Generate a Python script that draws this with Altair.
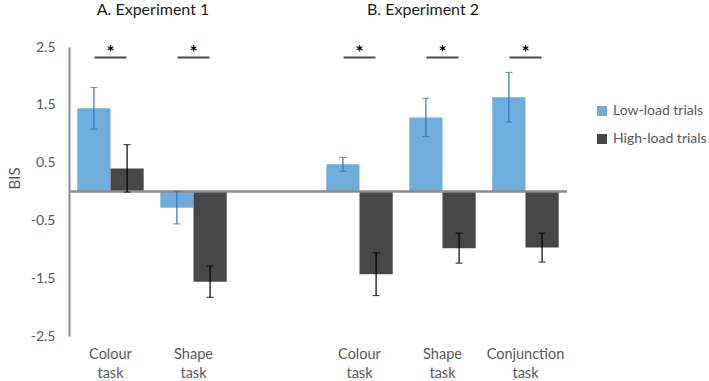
import altair as alt
import pandas as pd

# Category slots along x (one empty slot separates the two experiments)
slots = ["E1|Colour task", "E1|Shape task", "gap",
         "E2|Colour task", "E2|Shape task", "E2|Conjunction task"]
task_slots = [s for s in slots if s != "gap"]
series = ["Low-load trials", "High-load trials"]
panel_titles = ["A. Experiment 1", "B. Experiment 2"]

# Mean BIS scores and error half-widths
low_mean = [1.44, -0.28, 0.47, 1.28, 1.63]
low_err = [0.36, 0.28, 0.12, 0.33, 0.43]
high_mean = [0.40, -1.56, -1.43, -0.98, -0.97]
high_err = [0.41, 0.27, 0.37, 0.26, 0.25]

# Significance markers
sig_line = [2.32] * len(task_slots)
sig_star = [2.40] * len(task_slots)

y_ticks = [-2.5, -1.5, -0.5, 0.5, 1.5, 2.5]

BLUE = "#70ADDB"
DARK = "#474747"
ERR_BLUE = "#2E75B6"
GREY_TEXT = "#595959"
FONT = "Lato"

rows = []
for i, s in enumerate(task_slots):
    for name, m, e in ((series[0], low_mean[i], low_err[i]),
                       (series[1], high_mean[i], high_err[i])):
        rows.append(dict(slot=s, series=name, mean=m, lo=m - e, hi=m + e))
df = pd.DataFrame(rows)

sig_df = pd.DataFrame({"slot": task_slots, "line": sig_line, "star": sig_star})

x_enc = alt.X(
    "slot:N",
    scale=alt.Scale(domain=slots, paddingInner=0.2, paddingOuter=0.1),
    axis=alt.Axis(
        orient="bottom", domain=False, ticks=False, labelAngle=0,
        labelExpr="datum.value == 'gap' ? '' : split(split(datum.value, '|')[1], ' ')",
        labelFontSize=14.5, labelColor=GREY_TEXT, labelFont=FONT,
        labelPadding=11, labelLineHeight=19,
    ),
    title=None,
)
xo_enc = alt.XOffset("series:N", scale=alt.Scale(domain=series, paddingInner=0, paddingOuter=0))

y_axis = alt.Axis(
    values=y_ticks, ticks=False, grid=False,
    domainColor="#8C8C8C", domainWidth=2,
    labelExpr="(datum.value < 0 ? '-' : '') + format(abs(datum.value), '.1f')",
    labelFontSize=14, labelColor=GREY_TEXT, labelFont=FONT, labelPadding=14,
    title="BIS", titleFontSize=15, titleFontWeight="normal", titleColor=GREY_TEXT,
    titleFont=FONT, titlePadding=8, titleY=131,
)
y_scale = alt.Scale(domain=[-2.5, 2.5], nice=False, zero=False)


def Y(field):
    return alt.Y(field, scale=y_scale, axis=y_axis, title="BIS")


base = alt.Chart(df)

bars = base.mark_bar().encode(
    x=x_enc, xOffset=xo_enc, y=Y("mean:Q"), y2=alt.datum(0),
    color=alt.Color(
        "series:N", scale=alt.Scale(domain=series, range=[BLUE, DARK]),
        legend=alt.Legend(
            title=None, orient="none", legendX=526, legendY=57,
            symbolType="square", symbolSize=100, symbolStrokeWidth=0,
            labelFontSize=14, labelColor=GREY_TEXT, labelFont=FONT,
            rowPadding=14, labelOffset=4,
        ),
    ),
)

err_color = alt.Color("series:N", scale=alt.Scale(domain=series, range=[ERR_BLUE, "#000000"]), legend=None)

err_rule = base.mark_rule(strokeWidth=1.2).encode(
    x=x_enc, xOffset=xo_enc, y=Y("lo:Q"), y2="hi:Q", color=err_color)
err_cap_lo = base.mark_tick(size=7, thickness=1.2).encode(
    x=x_enc, xOffset=xo_enc, y=Y("lo:Q"), color=err_color)
err_cap_hi = base.mark_tick(size=7, thickness=1.2).encode(
    x=x_enc, xOffset=xo_enc, y=Y("hi:Q"), color=err_color)

# Horizontal baseline at zero across the whole plot
zero_line = alt.Chart(df).mark_rule(color="#8C8C8C", strokeWidth=2.5).encode(
    y=alt.Y("z:Q", scale=y_scale, axis=y_axis, title="BIS")
).transform_calculate(z="0").transform_filter(
    "datum.slot == 'E1|Colour task' && datum.series == 'Low-load trials'")

sig_bars = alt.Chart(sig_df).mark_tick(size=32, thickness=2, color="#000000").encode(
    x=x_enc, y=Y("line:Q"))
sig_stars = alt.Chart(sig_df).mark_text(
    text="*", fontSize=19, fontWeight="bold", font=FONT, color="#000000", baseline="middle"
).encode(x=x_enc, y=Y("star:Q"))

title_a = alt.Chart(pd.DataFrame({"t": [panel_titles[0]]})).mark_text(
    fontSize=16, font=FONT, color="#1A1A1A", baseline="middle"
).encode(text="t:N", x=alt.value(84), y=alt.value(-37))
title_b = alt.Chart(pd.DataFrame({"t": [panel_titles[1]]})).mark_text(
    fontSize=16, font=FONT, color="#1A1A1A", baseline="middle"
).encode(text="t:N", x=alt.value(354), y=alt.value(-37))

chart = alt.layer(
    bars, zero_line, err_rule, err_cap_lo, err_cap_hi, sig_bars, sig_stars, title_a, title_b
).resolve_scale(color="independent").properties(
    width=498, height=289,
    autosize=alt.AutoSizeParams(type="none"),
    padding={"left": 69, "top": 47, "right": 142, "bottom": 45},
    background="white",
).configure_view(stroke=None)

chart.save("out.html", embed_options={"renderer": "svg", "actions": False})
